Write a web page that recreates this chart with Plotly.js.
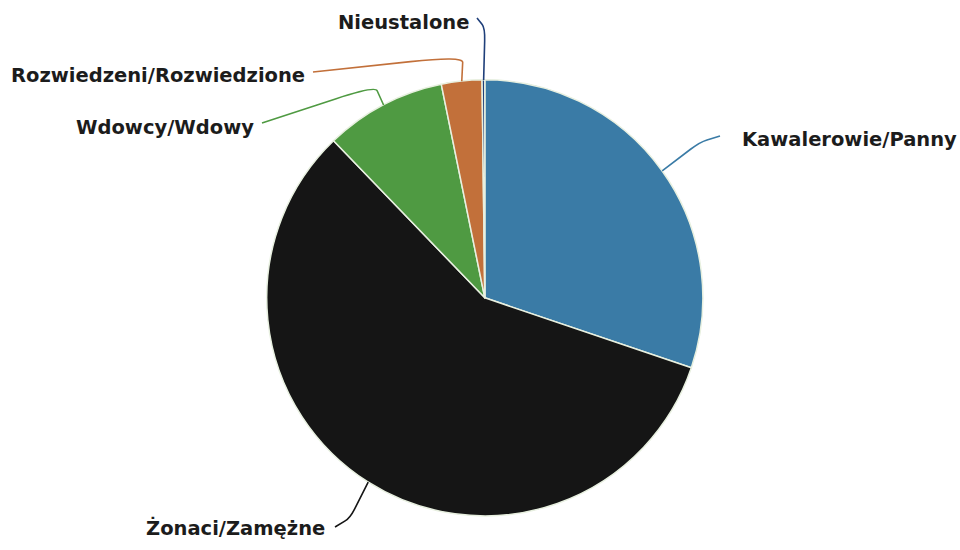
<!DOCTYPE html>
<html><head><meta charset="utf-8">
<script src="https://cdn.plot.ly/plotly-3.0.1.min.js"></script>
<style>html,body{margin:0;padding:0;background:#fff}</style>
</head><body>
<div id="chart" style="width:960px;height:550px"></div>
<script>
const labels = ["Kawalerowie/Panny", "Żonaci/Zamężne", "Wdowcy/Wdowy", "Rozwiedzeni/Rozwiedzione", "Nieustalone"];
const values = [30.2, 57.6, 9.0, 3.0, 0.2];
const colors = ["#3a7ba6", "#151515", "#4f9a42", "#c2703a", "#1f3f7a"];

const W = 960, H = 550;
const CX = 485, CY = 298, R = 218;
// label placement (pixel) : text anchor + connector elbow
const labelPos = [
  {tx: 740, ty: 140, anchor: "left",  elbow: [700, 142], end: [720, 136]},
  {tx: 327, ty: 528, anchor: "right", elbow: [350, 518], end: [335, 527]},
  {tx: 256, ty: 128, anchor: "right", elbow: [375, 86],  end: [262, 123]},
  {tx: 307, ty: 75,  anchor: "right", elbow: [463, 56],  end: [313, 72]},
  {tx: 471, ty: 22,  anchor: "right", elbow: [485, 28],  end: [477, 18]}
];

const total = values.reduce((a, b) => a + b, 0);
let cum = 0;
const shapes = [], annotations = [];
const px = x => x / W, py = y => 1 - y / H;
values.forEach((v, i) => {
  const mid = (cum + v / 2) / total * 2 * Math.PI;
  cum += v;
  const sx = CX + R * Math.sin(mid), sy = CY - R * Math.cos(mid);
  const L = labelPos[i];
  const e = L.elbow, en = L.end;
  const path = `M ${px(sx)},${py(sy)} L ${px(e[0] + (sx - e[0]) * 0.25)},${py(e[1] + (sy - e[1]) * 0.25)} Q ${px(e[0])},${py(e[1])} ${px(e[0] + (en[0] - e[0]) * 0.35)},${py(e[1] + (en[1] - e[1]) * 0.35)} L ${px(en[0])},${py(en[1])}`;
  shapes.push({type: "path", xref: "paper", yref: "paper", path: path,
    line: {color: colors[i], width: 1.6}});
  annotations.push({xref: "paper", yref: "paper", x: px(L.tx), y: py(L.ty),
    xanchor: L.anchor, yanchor: "middle", showarrow: false, text: "<b>" + labels[i] + "</b>",
    font: {family: "DejaVu Sans", size: 19.5, color: "#1c1c1c"}});
});

const data = [{
  type: "pie", labels: labels, values: values, sort: false, direction: "clockwise",
  rotation: 0, textinfo: "none", hoverinfo: "label+percent",
  marker: {colors: colors, line: {color: "#e8f0e0", width: 1.5}},
  domain: {x: [0.205, 0.805], y: [0.062, 0.855]}, showlegend: false
}];
const layout = {width: W, height: H, margin: {l: 0, r: 0, t: 0, b: 0},
  paper_bgcolor: "#fff", showlegend: false, shapes: shapes, annotations: annotations};
Plotly.newPlot("chart", data, layout, {displayModeBar: false, staticPlot: true});
</script>
</body></html>
